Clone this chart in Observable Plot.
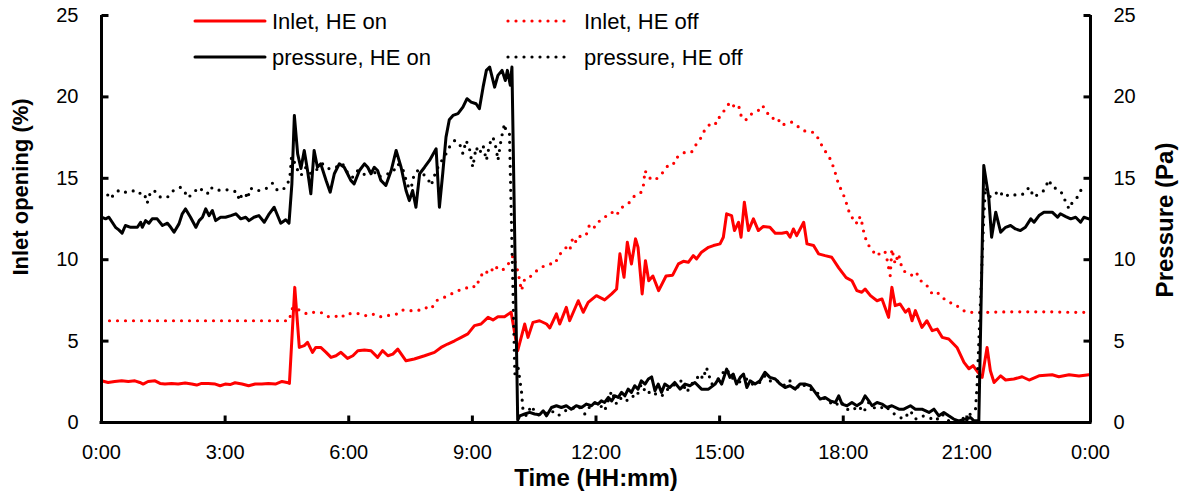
<!DOCTYPE html>
<html>
<head>
<meta charset="utf-8">
<script src="https://cdn.jsdelivr.net/npm/d3@7"></script>
<script src="https://cdn.jsdelivr.net/npm/@observablehq/plot@0.6"></script>
<style>
  html, body { margin: 0; padding: 0; background: #fff; }
  #chart { position: relative; width: 1186px; height: 497px; }
</style>
</head>
<body>
<div id="chart"></div>
<script>
// ---- Data (time in hours) ----
const xTicks = [0, 3, 6, 9, 12, 15, 18, 21, 24];
const xTickLabels = ["0:00", "3:00", "6:00", "9:00", "12:00", "15:00", "18:00", "21:00", "0:00"];
const yTicks = [0, 5, 10, 15, 20, 25];
const seriesNames = ["Inlet, HE on", "Inlet, HE off", "pressure, HE on", "pressure, HE off"];

const inletOn = [
[0,2.56],[0.16,2.46],[0.32,2.52],[0.49,2.56],[0.65,2.52],[0.81,2.56],[0.93,2.46],[1.01,2.36],[1.13,2.52],[1.30,2.56],[1.42,2.4],[1.54,2.36],[1.70,2.4],[1.86,2.36],[2.03,2.42],[2.19,2.36],[2.31,2.3],[2.43,2.4],[2.59,2.4],[2.76,2.36],[2.88,2.26],[3.00,2.36],[3.12,2.33],[3.24,2.44],[3.41,2.36],[3.57,2.26],[3.73,2.36],[3.89,2.36],[4.05,2.4],[4.22,2.36],[4.38,2.52],[4.50,2.46],[4.56,2.4],
[4.69,8.3],[4.80,4.61],[4.92,4.72],[5.0,4.92],[5.12,4.31],[5.20,4.61],[5.32,4.61],[5.45,4.31],[5.57,4.0],[5.69,4.1],[5.81,4.31],[5.97,3.94],[6.10,4.1],[6.22,4.41],[6.38,4.45],[6.54,4.41],[6.70,4.0],[6.82,4.41],[6.95,4.1],[7.07,4.2],[7.19,4.51],[7.39,3.79],[7.59,3.9],[7.84,4.1],[8.08,4.31],[8.24,4.61],[8.40,4.82],[8.57,5.02],[8.73,5.23],[8.89,5.44],[9.05,5.95],[9.21,6.05],[9.38,6.46],[9.50,6.30],[9.62,6.5],[9.78,6.5],[9.94,6.77],
[10.10,4.41],[10.27,6.05],[10.35,5.23],[10.47,6.15],[10.63,6.25],[10.80,6.05],[10.88,5.81],[11.04,6.67],[11.12,6.05],[11.28,7.07],[11.36,6.25],[11.57,7.48],[11.69,6.77],[11.81,7.38],[12.01,7.79],[12.21,7.53],[12.38,7.9],[12.50,8.2],[12.58,10.36],[12.68,8.92],[12.76,11.07],[12.86,9.74],[12.96,11.28],[13.02,10.76],[13.12,7.9],[13.20,9.94],[13.28,8.71],[13.38,9.0],[13.52,8.1],[13.70,9.0],[13.86,9.05],[14.00,9.74],[14.12,9.9],[14.24,9.84],[14.36,10.25],[14.44,10.05],[14.56,10.46],[14.73,10.76],[14.85,10.87],[15.01,10.97],[15.09,11.38],[15.17,12.82],[15.29,12.71],[15.36,11.79],[15.46,12.3],[15.52,11.38],[15.60,13.53],[15.70,11.79],[15.82,12.51],[15.94,11.79],[16.06,12.04],[16.22,12.0],[16.35,11.63],[16.51,11.63],[16.63,11.69],[16.71,11.38],[16.79,11.89],[16.87,11.48],[17.04,12.3],[17.12,10.97],[17.28,10.87],[17.40,10.36],[17.56,10.25],[17.72,10.15],[17.89,9.5],[18.07,8.9],[18.21,8.71],[18.33,8.1],[18.45,8.0],[18.53,8.2],[18.66,7.79],[18.82,7.48],[18.94,7.59],[19.10,6.46],[19.18,8.3],[19.26,7.18],[19.38,7.28],[19.51,6.77],[19.59,6.97],[19.67,6.25],[19.75,6.87],[19.91,5.84],[20.03,6.25],[20.16,5.64],[20.28,5.74],[20.40,5.23],[20.56,5.13],[20.76,4.61],[20.93,3.69],[21.05,3.3],[21.15,3.49],[21.27,3.08],[21.37,2.77],[21.49,4.61],[21.57,3.18],[21.66,2.46],[21.82,2.87],[21.94,2.61],[22.14,2.67],[22.34,2.81],[22.51,2.61],[22.75,2.87],[23.07,2.93],[23.23,2.81],[23.48,2.93],[23.72,2.85],[23.96,2.93]
];

const inletOff = [
[0,6.25],[1,6.25],[2,6.25],[3,6.25],[4,6.25],[4.55,6.25],[4.64,7.07],[4.76,6.97],[4.88,6.77],[5.00,6.67],[5.12,6.77],[5.32,6.77],[5.49,6.5],[5.65,6.56],[5.81,6.42],[5.93,6.7],[6.10,6.67],[6.26,6.7],[6.42,6.56],[6.58,6.67],[6.70,6.5],[6.86,6.5],[7.03,6.62],[7.19,6.67],[7.31,6.91],[7.47,6.87],[7.68,6.87],[7.84,7.07],[8.00,6.97],[8.12,7.48],[8.32,7.69],[8.49,7.9],[8.65,8.1],[8.81,8.2],[8.97,8.41],[9.09,8.3],[9.17,8.82],[9.29,9.33],[9.42,9.13],[9.54,9.64],[9.66,9.33],[9.78,9.43],[9.90,9.84],[9.99,10.25],[10.11,9.23],[10.19,8.1],[10.27,8.82],[10.39,8.92],[10.51,9.23],[10.63,9.43],[10.75,9.64],[10.88,9.74],[11.00,9.74],[11.08,10.15],[11.16,10.46],[11.28,10.76],[11.36,10.56],[11.44,11.38],[11.52,11.07],[11.65,11.58],[11.77,11.58],[11.85,12.2],[11.97,11.99],[12.09,12.4],[12.21,12.61],[12.38,12.92],[12.50,12.71],[12.58,13.12],[12.70,13.33],[12.82,13.53],[12.94,13.94],[13.10,14.15],[13.15,14.56],[13.19,15.48],[13.27,15.07],[13.41,14.87],[13.51,15.05],[13.63,15.38],[13.75,15.8],[13.88,15.85],[13.91,16.2],[14.04,16.4],[14.16,16.61],[14.32,16.61],[14.44,17.12],[14.56,17.53],[14.64,17.98],[14.81,18.45],[14.93,18.35],[15.01,18.86],[15.13,19.21],[15.25,19.68],[15.37,19.37],[15.46,19.48],[15.54,18.66],[15.66,18.6],[15.78,18.97],[15.94,19.17],[16.04,19.48],[16.14,19.07],[16.27,18.66],[16.39,18.76],[16.51,18.25],[16.63,18.39],[16.75,18.45],[16.87,18.25],[16.99,17.98],[17.16,17.83],[17.28,17.83],[17.40,17.43],[17.52,16.81],[17.64,16.4],[17.72,16.0],[17.81,15.3],[17.89,14.6],[17.97,14.2],[18.05,13.7],[18.13,13.02],[18.21,12.57],[18.29,12.57],[18.33,12.2],[18.41,12.65],[18.45,12.3],[18.49,11.79],[18.58,10.97],[18.70,10.66],[18.78,10.25],[18.86,10.36],[18.94,10.25],[19.02,10.46],[19.06,10.05],[19.10,9.53],[19.14,9.02],[19.18,10.66],[19.26,9.74],[19.34,10.36],[19.38,9.94],[19.43,9.43],[19.51,9.23],[19.63,9.13],[19.71,8.92],[19.79,9.13],[19.91,8.61],[20.03,8.41],[20.16,7.9],[20.28,8.0],[20.40,7.69],[20.56,7.38],[20.72,7.28],[20.84,6.97],[21.01,6.77],[21.17,6.77],[21.5,6.77],[22,6.8],[22.5,6.8],[23,6.8],[23.5,6.77],[23.84,6.77]
];

const pressureOn = [
[0.0,12.61],[0.10,12.51],[0.18,12.61],[0.26,12.3],[0.34,11.99],[0.42,11.83],[0.50,11.63],[0.58,12.1],[0.71,11.99],[0.87,11.99],[0.95,12.3],[0.99,11.99],[1.07,12.4],[1.15,12.24],[1.23,12.51],[1.35,12.51],[1.48,12.1],[1.60,12.24],[1.68,11.99],[1.76,11.69],[1.88,12.2],[1.96,12.82],[2.04,13.12],[2.16,12.61],[2.29,11.99],[2.37,12.4],[2.45,12.61],[2.53,13.12],[2.61,12.71],[2.69,13.02],[2.77,12.4],[2.89,12.61],[3.01,12.61],[3.14,12.71],[3.26,12.82],[3.38,12.51],[3.50,12.61],[3.58,12.4],[3.70,12.61],[3.82,12.71],[3.95,12.3],[4.07,12.82],[4.19,13.22],[4.35,12.24],[4.47,12.45],[4.55,12.24],[4.62,14.66],[4.68,18.86],[4.76,16.5],[4.84,15.6],[4.92,16.71],[5.00,15.48],[5.08,14.05],[5.16,16.71],[5.24,15.68],[5.32,15.89],[5.45,14.87],[5.55,14.15],[5.65,15.28],[5.77,15.89],[5.89,15.68],[5.97,15.28],[6.05,14.87],[6.13,14.66],[6.26,15.48],[6.38,15.89],[6.46,15.68],[6.54,15.28],[6.62,15.68],[6.70,15.48],[6.78,14.87],[6.90,14.56],[7.03,15.48],[7.15,16.71],[7.27,15.68],[7.39,14.25],[7.47,13.63],[7.55,14.25],[7.63,13.22],[7.72,15.28],[7.84,15.68],[7.96,16.1],[8.12,16.81],[8.20,13.22],[8.28,15.28],[8.36,17.53],[8.44,18.6],[8.53,18.86],[8.65,18.97],[8.77,19.37],[8.87,19.89],[8.97,19.68],[9.09,19.58],[9.17,19.27],[9.26,20.6],[9.34,21.63],[9.42,21.83],[9.54,20.6],[9.62,21.32],[9.72,21.63],[9.80,21.01],[9.85,21.63],[9.92,20.71],[9.96,21.83],[10.10,0.15],[10.15,0.41],[10.27,0.52],[10.39,0.62],[10.51,0.52],[10.63,0.47],[10.72,0.72],[10.80,0.41],[10.92,0.92],[11.04,1.03],[11.16,0.92],[11.28,1.03],[11.40,0.82],[11.52,1.03],[11.65,0.92],[11.77,1.13],[11.89,1.03],[11.97,1.23],[12.05,1.13],[12.13,1.33],[12.21,1.23],[12.30,1.54],[12.38,1.33],[12.46,1.64],[12.54,1.54],[12.62,1.85],[12.70,1.64],[12.78,2.05],[12.86,1.85],[12.94,2.26],[13.02,2.05],[13.10,2.56],[13.19,2.36],[13.27,2.67],[13.35,2.8],[13.43,1.95],[13.51,2.36],[13.59,1.85],[13.67,2.36],[13.79,2.15],[13.91,2.46],[14.04,2.05],[14.16,2.36],[14.28,2.26],[14.40,2.46],[14.56,2.05],[14.73,2.05],[14.89,2.36],[14.97,2.67],[15.05,2.36],[15.17,3.28],[15.25,2.77],[15.33,2.98],[15.41,2.36],[15.50,2.77],[15.58,2.98],[15.66,2.15],[15.74,2.56],[15.86,2.36],[15.98,2.56],[16.10,3.08],[16.22,2.77],[16.35,2.67],[16.47,2.36],[16.59,2.15],[16.71,2.26],[16.83,2.05],[16.95,2.36],[17.08,2.36],[17.20,2.26],[17.32,1.85],[17.44,1.44],[17.56,1.54],[17.68,1.33],[17.81,1.23],[17.89,1.64],[17.97,1.13],[18.09,1.03],[18.21,1.23],[18.33,1.03],[18.45,1.23],[18.53,1.64],[18.62,1.33],[18.70,1.03],[18.82,1.23],[18.94,1.13],[19.06,0.92],[19.18,1.03],[19.35,0.82],[19.47,0.82],[19.63,1.03],[19.75,0.82],[19.91,0.82],[20.08,0.62],[20.20,0.82],[20.32,0.41],[20.44,0.62],[20.56,0.41],[20.68,0.21],[20.80,0.1],[20.96,0.21],[21.09,0.31],[21.17,0.1],[21.29,0.1],[21.41,15.79],[21.53,13.84],[21.60,11.38],[21.70,12.92],[21.82,11.69],[21.94,11.99],[22.06,12.1],[22.18,11.89],[22.30,11.79],[22.42,11.99],[22.55,12.51],[22.63,12.3],[22.75,12.71],[22.87,12.92],[23.07,12.92],[23.20,12.61],[23.27,12.82],[23.40,12.65],[23.52,12.51],[23.64,12.61],[23.76,12.3],[23.84,12.61],[23.96,12.51]
];

const pressureOff = [
[0.00,14.05],[0.10,14.15],[0.22,13.74],[0.34,14.15],[0.46,14.29],[0.58,14.15],[0.71,14.15],[0.79,14.25],[0.91,14.05],[0.99,14.15],[1.07,13.84],[1.11,13.47],[1.15,13.94],[1.27,14.29],[1.39,13.88],[1.51,13.8],[1.60,13.84],[1.76,14.29],[1.92,14.45],[2.00,14.25],[2.10,13.8],[2.20,14.05],[2.37,14.45],[2.49,14.15],[2.57,14.05],[2.65,14.45],[2.77,14.25],[2.93,14.29],[3.10,14.29],[3.30,14.15],[3.34,13.63],[3.42,14.05],[3.50,14.05],[3.54,13.74],[3.62,14.41],[3.70,14.25],[3.87,14.25],[4.03,14.41],[4.15,14.7],[4.27,14.25],[4.39,14.29],[4.51,14.56],[4.58,15.28],[4.61,16.3],[4.64,16.3],[4.72,15.68],[4.84,15.17],[4.96,15.68],[5.08,15.28],[5.20,15.48],[5.37,15.89],[5.53,15.58],[5.69,15.68],[5.85,15.89],[6.01,15.17],[6.10,15.07],[6.22,15.48],[6.42,15.17],[6.58,15.58],[6.70,15.07],[6.82,15.17],[6.95,15.28],[7.07,15.38],[7.19,15.89],[7.31,15.58],[7.43,14.56],[7.51,14.35],[7.59,15.28],[7.68,15.48],[7.80,15.28],[7.92,14.97],[8.00,14.56],[8.08,15.17],[8.20,15.89],[8.32,16.3],[8.44,16.91],[8.57,17.32],[8.69,17.12],[8.77,16.51],[8.85,17.32],[8.93,16.81],[9.01,15.68],[9.09,16.91],[9.17,16.51],[9.26,17.02],[9.34,16.1],[9.42,17.12],[9.50,17.53],[9.58,16.81],[9.62,16.1],[9.70,17.43],[9.78,18.35],[9.82,17.83],[9.90,17.73],[10.03,2.98],[10.11,3.38],[10.19,1.95],[10.23,0.72],[10.31,0.41],[10.43,1.03],[10.55,0.52],[10.67,0.41],[10.80,0.62],[10.92,0.72],[11.08,0.41],[11.24,0.72],[11.40,0.82],[11.57,1.03],[11.73,0.52],[11.89,1.13],[12.05,1.23],[12.21,0.72],[12.38,1.95],[12.50,1.13],[12.62,1.54],[12.74,1.33],[12.86,1.64],[12.98,1.54],[13.10,2.36],[13.23,1.75],[13.35,1.95],[13.47,1.7],[13.59,1.6],[13.71,2.0],[13.83,2.15],[13.96,2.46],[14.08,2.56],[14.20,1.85],[14.32,2.36],[14.44,2.67],[14.52,2.98],[14.60,2.67],[14.68,3.38],[14.81,2.36],[14.93,2.56],[15.05,2.98],[15.17,3.28],[15.29,2.77],[15.41,2.56],[15.54,2.46],[15.66,2.67],[15.78,2.36],[15.94,2.36],[16.10,2.87],[16.27,2.46],[16.43,2.56],[16.59,2.26],[16.71,2.56],[16.83,1.95],[16.95,2.36],[17.08,2.26],[17.20,2.05],[17.32,1.95],[17.44,1.64],[17.56,1.44],[17.68,1.23],[17.81,1.03],[17.93,1.33],[18.09,0.82],[18.21,0.72],[18.37,1.03],[18.49,0.62],[18.62,1.23],[18.74,0.92],[18.86,0.82],[19.02,1.03],[19.14,0.72],[19.30,0.41],[19.47,0.21],[19.63,0.72],[19.75,0.21],[19.91,0.41],[20.08,0.31],[20.24,0.1],[20.40,0.52],[20.56,0.1],[20.72,0.0],[20.88,0.21],[21.01,0.41],[21.09,0.52],[21.21,0.82],[21.25,2.36],[21.33,7.48],[21.41,12.61],[21.45,14.45],[21.57,13.84],[21.65,13.94],[21.78,14.25],[21.90,13.84],[22.06,14.05],[22.22,13.94],[22.39,14.05],[22.51,14.45],[22.63,13.84],[22.75,14.05],[22.87,14.25],[22.99,14.91],[23.07,14.45],[23.20,14.35],[23.32,14.05],[23.40,13.53],[23.48,13.12],[23.56,13.53],[23.68,13.84],[23.76,14.25],[23.84,14.29],[23.92,14.35]
];

// ---- Styles ----
const FONT = "'Liberation Sans', Arial, sans-serif";
const RED = "#ff0000";
const BLACK = "#000000";
const DOTS = "0 8";
const TICK = 7;

const lineOpts = (stroke, dashed) => ({
  x: d => d[0], y: d => d[1], stroke, strokeWidth: dashed ? 3.2 : 3,
  strokeDasharray: dashed ? DOTS : null,
  strokeLinecap: "round", strokeLinejoin: "round"
});

// inward tick shapes, used as dot symbols anchored on the frame edges
const tickUp = { draw(ctx) { ctx.moveTo(0, 0); ctx.lineTo(0, -TICK); } };
const tickRight = { draw(ctx) { ctx.moveTo(0, 0); ctx.lineTo(TICK, 0); } };
const tickLeft = { draw(ctx) { ctx.moveTo(0, 0); ctx.lineTo(-TICK, 0); } };
const tickOpts = { stroke: BLACK, strokeWidth: 3, fill: "none", strokeLinecap: "butt" };
const titleOpts = { fontWeight: "bold", fill: BLACK, textAnchor: "middle", lineAnchor: "middle" };

const plot = Plot.plot({
  width: 1186,
  height: 497,
  marginLeft: 101,
  marginRight: 96,
  marginTop: 15,
  marginBottom: 75,
  style: { fontFamily: FONT, fontSize: "20px", color: "#000", background: "#fff", overflow: "visible" },
  x: { domain: [0, 24] },
  y: { domain: [0, 25] },
  marks: [
    Plot.line(inletOff, lineOpts(RED, true)),
    Plot.line(inletOn, lineOpts(RED, false)),
    Plot.line(pressureOn, lineOpts(BLACK, false)),
    Plot.line(pressureOff, lineOpts(BLACK, true)),
    Plot.ruleX([0, 24], { stroke: BLACK, strokeWidth: 3 }),
    Plot.ruleY([0], { stroke: BLACK, strokeWidth: 3, strokeLinecap: "square" }),
    // inward-pointing tick marks
    Plot.dot(xTicks, { x: d => d, frameAnchor: "bottom", symbol: tickUp, ...tickOpts }),
    Plot.dot(yTicks, { y: d => d, frameAnchor: "left", symbol: tickRight, ...tickOpts }),
    Plot.dot(yTicks, { y: d => d, frameAnchor: "right", symbol: tickLeft, ...tickOpts }),
    // tick labels
    Plot.axisX({ ticks: xTicks, tickFormat: d => xTickLabels[xTicks.indexOf(d)], tickSize: 0, tickPadding: 22, label: null, fontSize: 20 }),
    Plot.axisY({ anchor: "left", ticks: yTicks, tickSize: 0, tickPadding: 23, label: null, fontSize: 20 }),
    Plot.axisY({ anchor: "right", ticks: yTicks, tickSize: 0, tickPadding: 23, label: null, fontSize: 20 }),
    // axis titles
    Plot.text(["Time (HH:mm)"], { frameAnchor: "bottom", dy: 56, fontSize: 24, ...titleOpts }),
    Plot.text(["Inlet opening (%)"], { frameAnchor: "left", rotate: -90, dx: -81, dy: -32, fontSize: 22, ...titleOpts }),
    Plot.text(["Pressure (Pa)"], { frameAnchor: "right", rotate: -90, dx: 75, dy: 1, fontSize: 24, ...titleOpts })
  ]
});

// ---- Legend inside the plot area ----
const legendItems = [
  { name: seriesNames[0], color: RED, dashed: false, x: 195, y: 21 },
  { name: seriesNames[1], color: RED, dashed: true, x: 508, y: 21 },
  { name: seriesNames[2], color: BLACK, dashed: false, x: 195, y: 57 },
  { name: seriesNames[3], color: BLACK, dashed: true, x: 508, y: 57 }
];
const svg = d3.select(plot);
const lg = svg.append("g").attr("font-family", FONT).attr("font-size", 22).attr("text-anchor", "start");
legendItems.forEach(it => {
  const w = it.dashed ? 64 : 70;
  lg.append("line")
    .attr("x1", it.x).attr("x2", it.x + w).attr("y1", it.y).attr("y2", it.y)
    .attr("stroke", it.color).attr("stroke-width", it.dashed ? 3.2 : 3)
    .attr("stroke-linecap", "round")
    .attr("stroke-dasharray", it.dashed ? DOTS : null);
  lg.append("text")
    .attr("x", it.dashed ? it.x + 76 : it.x + 77).attr("y", it.y)
    .attr("dy", "0.35em").attr("fill", "#000").attr("text-anchor", "start")
    .text(it.name);
});

document.getElementById("chart").appendChild(plot);
</script>
</body>
</html>
